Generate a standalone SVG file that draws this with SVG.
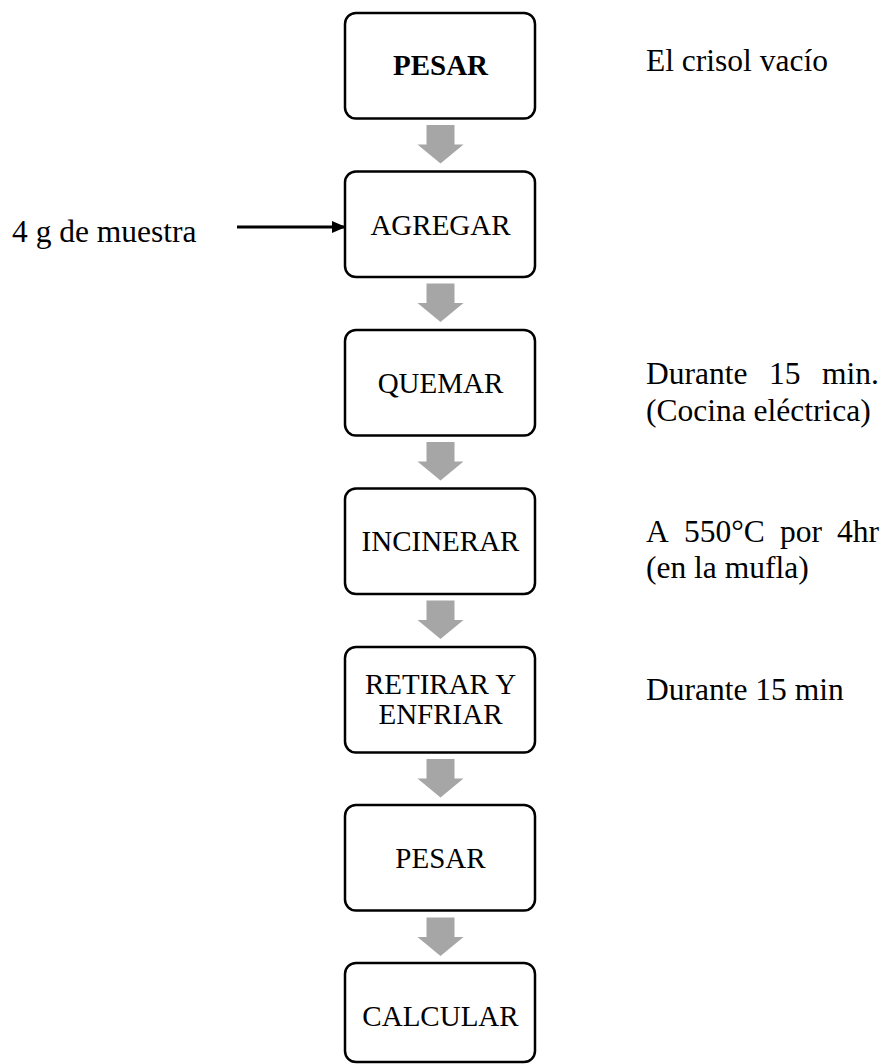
<svg xmlns="http://www.w3.org/2000/svg" width="886" height="1064" viewBox="0 0 886 1064">
<style>
.box{fill:#fff;stroke:#000;stroke-width:2.5}
.t{font-family:"Liberation Serif","Times New Roman",serif;font-size:29px;fill:#000;text-anchor:middle}
.n{font-family:"Liberation Serif","Times New Roman",serif;font-size:31.5px;fill:#000}
.g{fill:#a6a6a6}
</style>
<defs>
<marker id="ah" markerWidth="14" markerHeight="12" refX="13" refY="6" orient="auto" markerUnits="userSpaceOnUse">
<path d="M0,0 L14,6 L0,12 Z" fill="#000"/>
</marker>
<path id="garrow" d="M-14,0 H14 V19.5 H23 L0,38.5 L-23,19.5 H-14 Z"/>
</defs>
<rect width="886" height="1064" fill="#fff"/>
<g id="connectors">
<use href="#garrow" class="g" x="440.5" y="125"/>
<use href="#garrow" class="g" x="440.5" y="283.5"/>
<use href="#garrow" class="g" x="440.5" y="442"/>
<use href="#garrow" class="g" x="440.5" y="600.5"/>
<use href="#garrow" class="g" x="440.5" y="759"/>
<use href="#garrow" class="g" x="440.5" y="917.5"/>
<line x1="237" y1="227" x2="345" y2="227" stroke="#000" stroke-width="3" marker-end="url(#ah)"/>
</g>
<g id="n1"><rect class="box" x="345" y="13" width="190" height="105.5" rx="11"/><text class="t" x="440.5" y="75" font-weight="bold">PESAR</text></g>
<g id="n2"><rect class="box" x="345" y="171.5" width="190" height="105.5" rx="11"/><text class="t" x="440.5" y="235">AGREGAR</text></g>
<g id="n3"><rect class="box" x="345" y="330" width="190" height="105.5" rx="11"/><text class="t" x="440.5" y="393">QUEMAR</text></g>
<g id="n4"><rect class="box" x="345" y="488.5" width="190" height="105.5" rx="11"/><text class="t" x="440.5" y="551">INCINERAR</text></g>
<g id="n5"><rect class="box" x="345" y="647" width="190" height="105.5" rx="11"/><text class="t" x="440.5" y="694">RETIRAR Y</text><text class="t" x="440.5" y="724">ENFRIAR</text></g>
<g id="n6"><rect class="box" x="345" y="805" width="190" height="105.5" rx="11"/><text class="t" x="440.5" y="868">PESAR</text></g>
<g id="n7"><rect class="box" x="345" y="963" width="190" height="99" rx="11"/><text class="t" x="440.5" y="1026">CALCULAR</text></g>
<g id="notes">
<text class="n" x="646" y="71">El crisol vacío</text>
<text class="n" x="12" y="242">4 g de muestra</text>
<text class="n" y="384"><tspan x="646">Durante</tspan><tspan x="769">15</tspan><tspan x="822">min.</tspan></text>
<text class="n" x="646" y="420.5">(Cocina eléctrica)</text>
<text class="n" y="541.5"><tspan x="646">A</tspan><tspan x="684">550°C</tspan><tspan x="780">por</tspan><tspan x="837">4hr</tspan></text>
<text class="n" x="646" y="578">(en la mufla)</text>
<text class="n" x="646" y="700">Durante 15 min</text>
</g>
</svg>
